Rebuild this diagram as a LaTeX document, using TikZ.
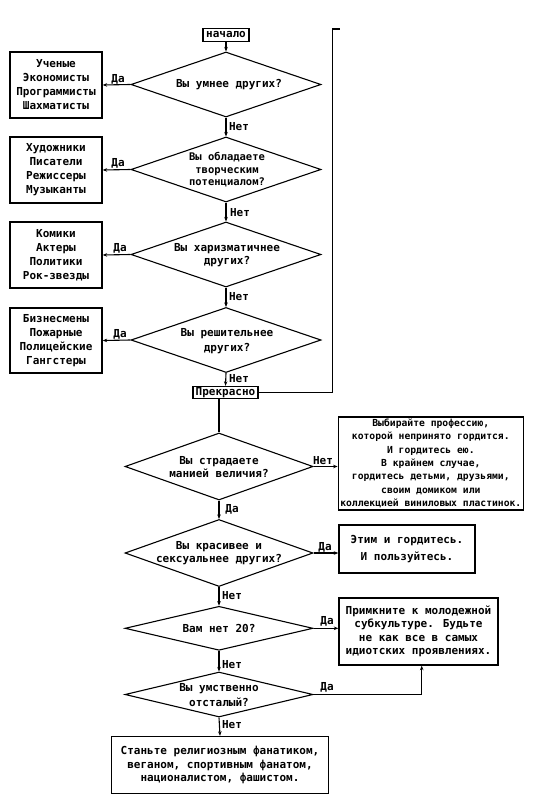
\documentclass[tikz,border=0pt]{standalone}
\usepackage{fontspec}
\setmainfont{DejaVu Sans Mono}
\usetikzlibrary{shapes.geometric,arrows.meta}
\begin{document}
\begin{tikzpicture}[x=1pt,y=-1pt,
  every node/.style={font=\bfseries\fontsize{11}{14}\selectfont, text=black},
  box/.style={draw, line width=1.4pt, inner sep=0pt, align=center},
  dia/.style={draw, diamond, inner sep=0pt, line width=1.1pt},
  dtext/.style={align=center, inner sep=0pt, font=\bfseries\fontsize{11}{13.5}\selectfont},
  lbl/.style={inner sep=0pt},
  arr/.style={-{Stealth[length=4.5pt,width=3.5pt]}, line width=1.1pt},
  ln/.style={line width=1.1pt},
]
\fill[white] (0,0) rectangle (540,799);
\useasboundingbox (0,0) rectangle (540,799);

% upper part
\node[box, minimum width=46pt, minimum height=13pt] (start) at (226,35) {начало};

\node[dia, minimum width=190pt, minimum height=65pt] (d1) at (226,84.5) {};
\node[dtext] (d1t) at (229,85) {Вы умнее других?};
\node[box, minimum width=92pt, minimum height=66pt] (b1) at (56,85) {Ученые\\Экономисты\\Программисты\\Шахматисты};

\node[dia, minimum width=190pt, minimum height=65pt] (d2) at (226,169.5) {};
\node[dtext, font=\bfseries\fontsize{10.5}{12.5}\selectfont] (d2t) at (227,170) {Вы обладаете\\творческим\\потенциалом?};
\node[box, minimum width=92pt, minimum height=66pt] (b2) at (56,170) {Художники\\Писатели\\Режиссеры\\Музыканты};

\node[dia, minimum width=190pt, minimum height=65pt] (d3) at (226,254.5) {};
\node[dtext] (d3t) at (227,255) {Вы харизматичнее\\других?};
\node[box, minimum width=92pt, minimum height=66pt] (b3) at (56,255) {Комики\\Актеры\\Политики\\Рок-звезды};

\node[dia, minimum width=190pt, minimum height=65pt] (d4) at (226,340) {};
\node[dtext, font=\bfseries\fontsize{11}{15}\selectfont] (d4t) at (227,341) {Вы решительнее\\других?};
\node[box, minimum width=92pt, minimum height=65pt] (b4) at (56,340.5) {Бизнесмены\\Пожарные\\Полицейские\\Гангстеры};

\node[box, minimum width=65pt, minimum height=12pt] (ok) at (225.5,392.5) {Прекрасно};
\coordinate (lt) at (340,29);

\draw[arr] (start) -- (d1.north);
\draw[arr] (d1.west) -- (b1.east);
\draw[arr] (d2.west) -- (b2.east);
\draw[arr] (d3.west) -- (b3.east);
\draw[arr] (d4.west) -- (b4.east);
\draw[arr] (d1.south) -- (d2.north);
\draw[arr] (d2.south) -- (d3.north);
\draw[arr] (d3.south) -- (d4.north);
\draw[arr] (d4.south) -- (ok.north);
\draw[ln] (ok.east) -- ++(73.5,0) |- (lt);

\node[lbl] (l1a) at (118,79) {Да};
\node[lbl] (l2a) at (118,163) {Да};
\node[lbl] (l3a) at (120,248) {Да};
\node[lbl] (l4a) at (120,334) {Да};
\node[lbl] (l1n) at (239,127) {Нет};
\node[lbl] (l2n) at (240,213) {Нет};
\node[lbl] (l3n) at (239,297) {Нет};
\node[lbl] (l4n) at (239,379) {Нет};

% lower part
\node[dia, minimum width=188pt, minimum height=67pt] (d5) at (219,466.5) {};
\node[dtext] (d5t) at (219,467) {Вы страдаете\\манией величия?};
\node[box, minimum width=185pt, minimum height=93pt, font=\bfseries\fontsize{9.7}{13.3}\selectfont] (b5) at (430.8,463.3) {Выбирайте профессию,\\которой непринято гордится.\\И гордитесь ею.\\В крайнем случае,\\гордитесь детьми, друзьями,\\своим домиком или\\коллекцией виниловых пластинок.};

\node[dia, minimum width=188pt, minimum height=67pt] (d6) at (219,553) {};
\node[dtext, font=\bfseries\fontsize{11}{12.5}\selectfont] (d6t) at (219,553) {Вы красивее и\\сексуальнее других?};
\node[box, minimum width=136pt, minimum height=48pt, font=\bfseries\fontsize{11}{17}\selectfont] (b6) at (407,549) {Этим и гордитесь.\\И пользуйтесь.};

\node[dia, minimum width=188pt, minimum height=44pt] (d7) at (219,628.3) {};
\node[dtext] (d7t) at (219,628.3) {Вам нет 20?};
\node[box, minimum width=159pt, minimum height=67pt, font=\bfseries\fontsize{11}{13.5}\selectfont] (b7) at (418.5,631.5) {Примкните к молодежной\\субкультуре. Будьте\\не как все в самых\\идиотских проявлениях.};

\node[dia, minimum width=188pt, minimum height=45pt] (d8) at (219,694.5) {};
\node[dtext, font=\bfseries\fontsize{11}{15}\selectfont] (d8t) at (219,695) {Вы умственно\\отсталый?};

\node[box, minimum width=217pt, minimum height=57pt, font=\bfseries\fontsize{11}{13.5}\selectfont] (b8) at (220,765) {Станьте религиозным фанатиком,\\веганом, спортивным фанатом,\\националистом, фашистом.};

\draw[ln] (ok.south -| d5.north) -- (d5.north);
\draw[arr] (d5.east) -- (b5.west |- d5.east);
\draw[arr] (d5.south) -- (d6.north);
\draw[arr] (d6.east) -- (b6.west |- d6.east);
\draw[arr] (d6.south) -- (d7.north);
\draw[arr] (d7.east) -- (b7.west |- d7.east);
\draw[arr] (d7.south) -- (d8.north);
\draw[arr] (d8.east) -| (b7.south -| 421.7,0);
\draw[arr] (d8.south) -- (b8.north);

\node[lbl] (l5n) at (323,461) {Нет};
\node[lbl] (l5a) at (232,509) {Да};
\node[lbl] (l6a) at (325,547) {Да};
\node[lbl] (l6n) at (232,596) {Нет};
\node[lbl] (l7a) at (327,621) {Да};
\node[lbl] (l7n) at (232,665) {Нет};
\node[lbl] (l8a) at (327,687) {Да};
\node[lbl] (l8n) at (232,725) {Нет};
\end{tikzpicture}
\end{document}
